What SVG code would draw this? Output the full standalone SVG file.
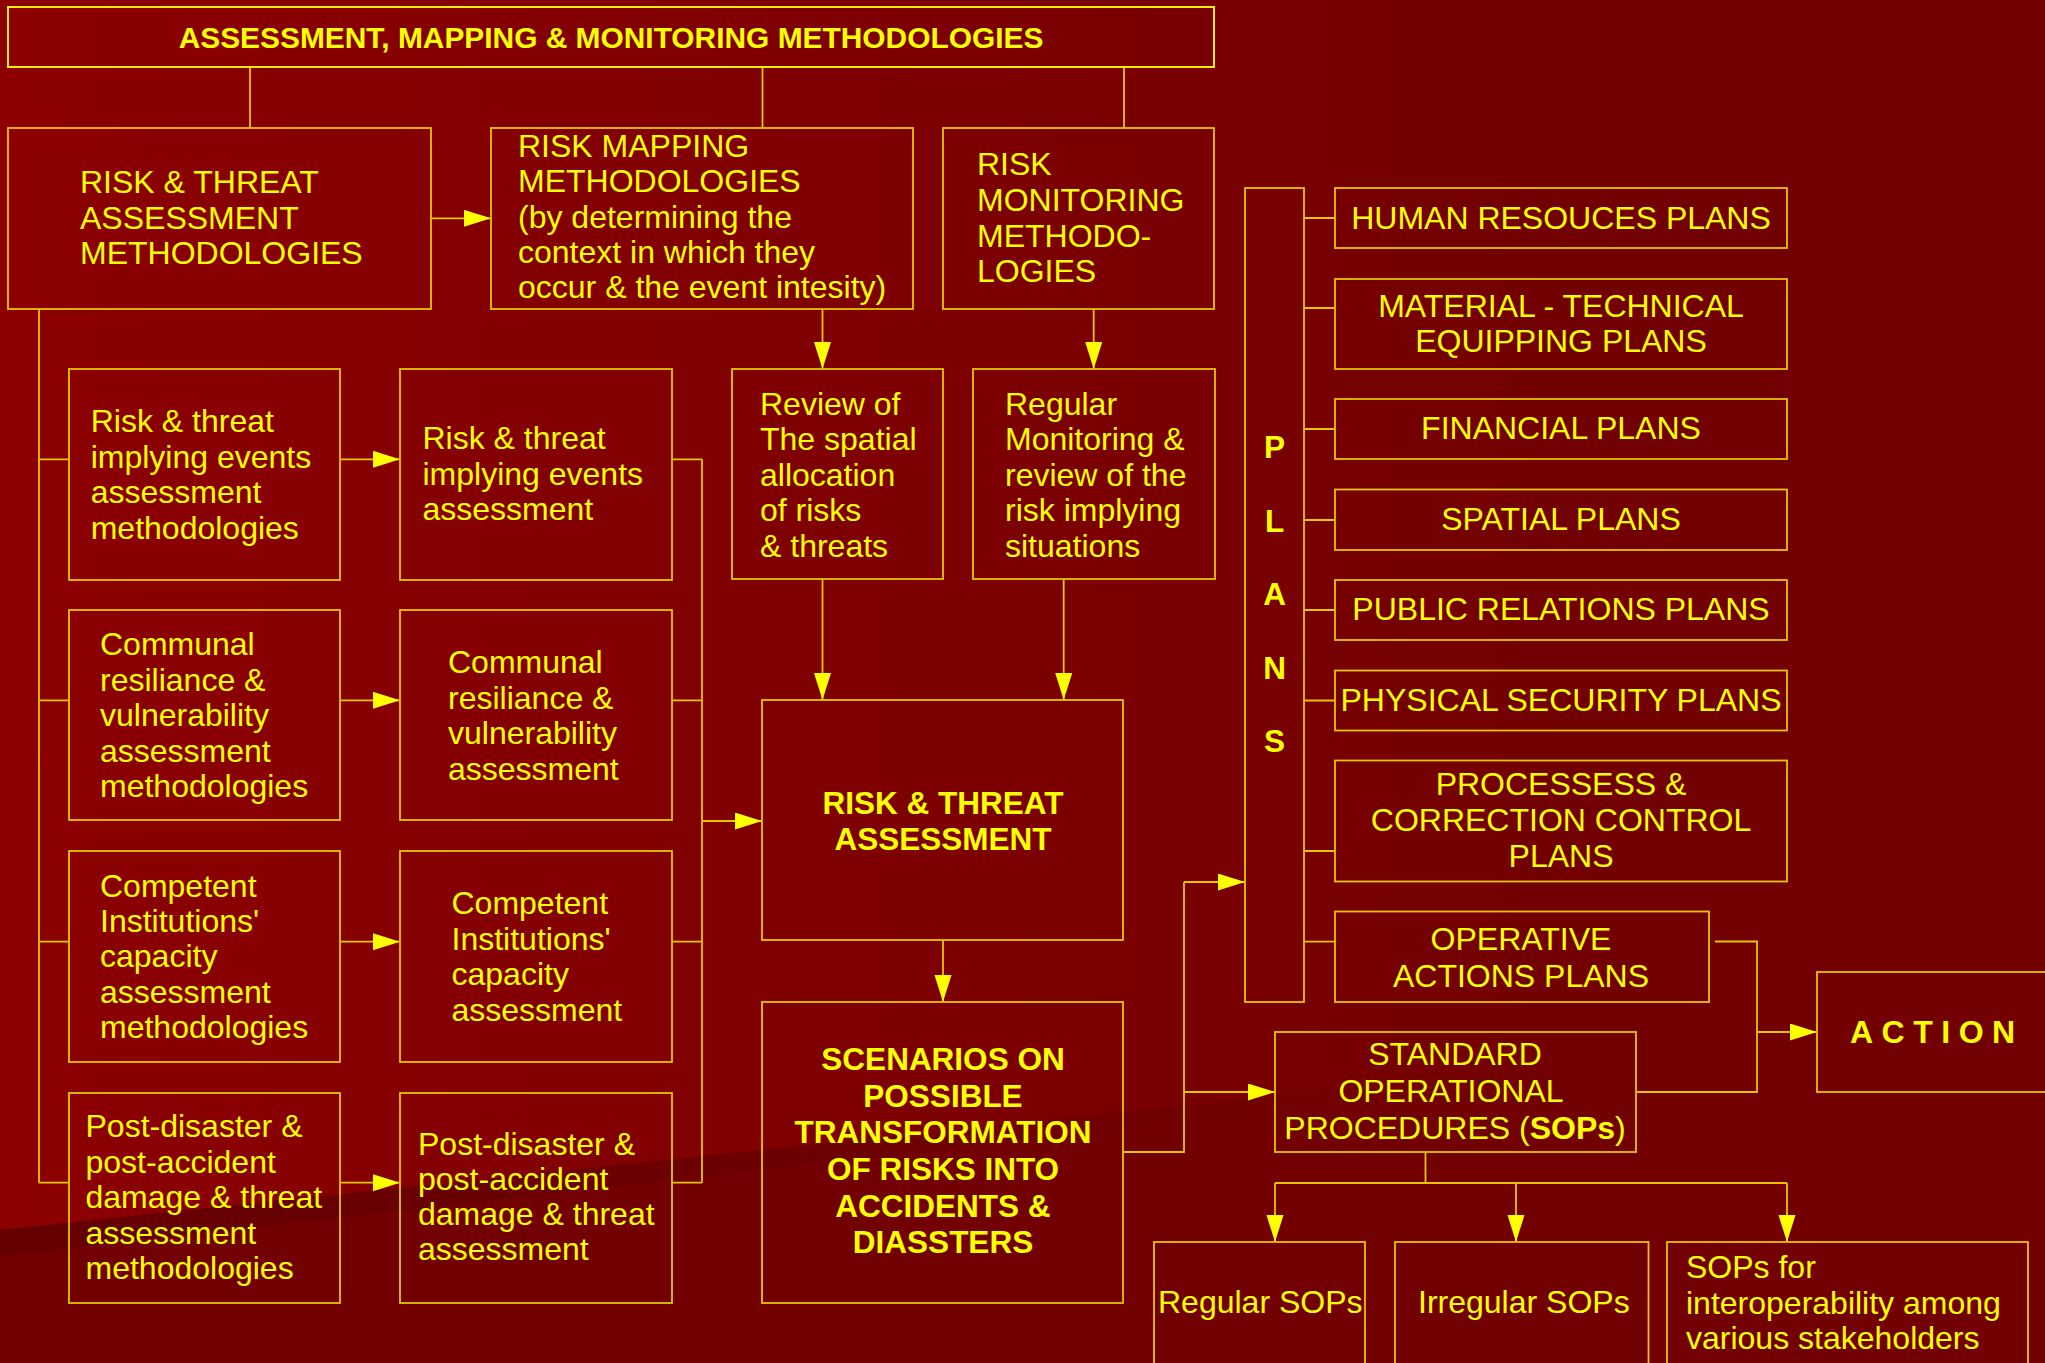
<svg xmlns="http://www.w3.org/2000/svg" width="2045" height="1363" viewBox="0 0 2045 1363">
<defs>
<linearGradient id="bg" gradientUnits="userSpaceOnUse" x1="0" y1="0" x2="1600" y2="0">
<stop offset="0" stop-color="#8c0000"/>
<stop offset="1" stop-color="#720000"/>
</linearGradient>
<linearGradient id="band" gradientUnits="userSpaceOnUse" x1="0" y1="0" x2="1400" y2="0">
<stop offset="0" stop-color="#640000"/>
<stop offset="1" stop-color="#730000"/>
</linearGradient>
<marker id="ah" markerUnits="userSpaceOnUse" markerWidth="28" markerHeight="18" refX="27" refY="8.5" orient="auto">
<path d="M0,0 L27,8.5 L0,17 z" fill="#ffff00"/>
</marker>
<style>
.box{fill:none;stroke:#e6c400;stroke-width:1.8}
.t{font-family:"Liberation Sans",Arial,Helvetica,sans-serif;font-size:32px;fill:#ffff00}
.b{font-family:"Liberation Sans",Arial,Helvetica,sans-serif;font-size:31.5px;font-weight:bold;fill:#ffff00}
.c{text-anchor:middle}
.ln{fill:none;stroke:#e6c400;stroke-width:1.8}
.ar{fill:none;stroke:#e6c400;stroke-width:1.8;marker-end:url(#ah)}
</style>
</defs>
<rect x="0" y="0" width="2045" height="1363" fill="url(#bg)"/>
<polygon points="0,1230 2045,1015 2045,1363 0,1363" fill="#730000"/>
<polygon points="0,1230 1400,1083 1400,1098 0,1256" fill="url(#band)"/>

<g id="connectors">
<path class="ln" d="M250,67 V128 M762.5,67 V128 M1124,67 V128"/>
<path class="ar" d="M431,218.3 H491"/>
<path class="ar" d="M822.5,309 V369"/>
<path class="ar" d="M1093.7,309 V369"/>
<path class="ar" d="M822.5,579 V700"/>
<path class="ar" d="M1063.7,579 V700"/>
<path class="ln" d="M39,309 V1182.7 M39,459.3 H69 M39,700.3 H69 M39,941.7 H69 M39,1182.7 H69"/>
<path class="ar" d="M340,459.3 H400"/>
<path class="ar" d="M340,700.3 H400"/>
<path class="ar" d="M340,941.7 H400"/>
<path class="ar" d="M340,1182.7 H400"/>
<path class="ln" d="M672,459.3 H702 M672,700.3 H702 M672,941.7 H702 M672,1182.7 H702 M702,459.3 V1182.7"/>
<path class="ar" d="M702,821 H762"/>
<path class="ar" d="M943,940 V1002"/>
<path class="ln" d="M1123,1152 H1184 V882"/>
<path class="ar" d="M1184,882 H1245"/>
<path class="ar" d="M1184,1092 H1275"/>
<path class="ln" d="M1304,218 H1335 M1304,308 H1335 M1304,429 H1335 M1304,520 H1335 M1304,610 H1335 M1304,700.5 H1335 M1304,851 H1335 M1304,941.7 H1335"/>
<path class="ln" d="M1715,941.5 H1757 V1092 H1636"/>
<path class="ar" d="M1757,1032 H1817"/>
<path class="ln" d="M1425.5,1152 V1183 M1275,1183 H1787"/>
<path class="ar" d="M1275,1183 V1242"/>
<path class="ar" d="M1516,1183 V1242"/>
<path class="ar" d="M1787,1183 V1242"/>
</g>

<g id="title">
<rect x="8" y="7" width="1206" height="60" fill="none" stroke="#ffee00" stroke-width="2"/>
<text class="b c" x="611" y="48" style="font-size:29.9px">ASSESSMENT, MAPPING &amp; MONITORING METHODOLOGIES</text>
</g>

<g id="risk-threat-assessment-methodologies">
<rect class="box" x="8" y="128" width="423" height="181"/>
<text class="t"><tspan x="80" y="193">RISK &amp; THREAT</tspan><tspan x="80" y="229">ASSESSMENT</tspan><tspan x="80" y="264">METHODOLOGIES</tspan></text>
</g>

<g id="risk-mapping-methodologies">
<rect class="box" x="491" y="128" width="422" height="181"/>
<text class="t"><tspan x="518" y="157">RISK MAPPING</tspan><tspan x="518" y="192">METHODOLOGIES</tspan><tspan x="518" y="227.5">(by determining the</tspan><tspan x="518" y="262.5">context in which they</tspan><tspan x="518" y="298">occur &amp; the event intesity)</tspan></text>
</g>

<g id="risk-monitoring-methodologies">
<rect class="box" x="943" y="128" width="271" height="181"/>
<text class="t"><tspan x="977" y="175">RISK</tspan><tspan x="977" y="210.5">MONITORING</tspan><tspan x="977" y="246.5">METHODO-</tspan><tspan x="977" y="282">LOGIES</tspan></text>
</g>

<g id="review-spatial">
<rect class="box" x="732" y="369" width="211" height="210"/>
<text class="t"><tspan x="760" y="415">Review of</tspan><tspan x="760" y="450">The spatial</tspan><tspan x="760" y="486">allocation</tspan><tspan x="760" y="521">of risks</tspan><tspan x="760" y="557">&amp; threats</tspan></text>
</g>

<g id="regular-monitoring">
<rect class="box" x="973" y="369" width="242" height="210"/>
<text class="t"><tspan x="1005" y="415">Regular</tspan><tspan x="1005" y="450">Monitoring &amp;</tspan><tspan x="1005" y="486">review of the</tspan><tspan x="1005" y="521">risk implying</tspan><tspan x="1005" y="557">situations</tspan></text>
</g>

<g id="events-methodologies">
<rect class="box" x="69" y="369" width="271" height="211"/>
<text class="t"><tspan x="90.7" y="432">Risk &amp; threat</tspan><tspan x="90.7" y="467.5">implying events</tspan><tspan x="90.7" y="503">assessment</tspan><tspan x="90.7" y="538.5">methodologies</tspan></text>
</g>
<g id="events-assessment">
<rect class="box" x="400" y="369" width="272" height="211"/>
<text class="t"><tspan x="422.5" y="449">Risk &amp; threat</tspan><tspan x="422.5" y="484.5">implying events</tspan><tspan x="422.5" y="520">assessment</tspan></text>
</g>

<g id="communal-methodologies">
<rect class="box" x="69" y="610" width="271" height="210"/>
<text class="t"><tspan x="100" y="655">Communal</tspan><tspan x="100" y="690.5">resiliance &amp;</tspan><tspan x="100" y="726">vulnerability</tspan><tspan x="100" y="761.5">assessment</tspan><tspan x="100" y="797">methodologies</tspan></text>
</g>
<g id="communal-assessment">
<rect class="box" x="400" y="610" width="272" height="210"/>
<text class="t"><tspan x="448" y="673">Communal</tspan><tspan x="448" y="708.5">resiliance &amp;</tspan><tspan x="448" y="744">vulnerability</tspan><tspan x="448" y="779.5">assessment</tspan></text>
</g>

<g id="capacity-methodologies">
<rect class="box" x="69" y="851" width="271" height="211"/>
<text class="t"><tspan x="100" y="897">Competent</tspan><tspan x="100" y="932">Institutions'</tspan><tspan x="100" y="967">capacity</tspan><tspan x="100" y="1002.5">assessment</tspan><tspan x="100" y="1038">methodologies</tspan></text>
</g>
<g id="capacity-assessment">
<rect class="box" x="400" y="851" width="272" height="211"/>
<text class="t"><tspan x="451.5" y="914">Competent</tspan><tspan x="451.5" y="949.5">Institutions'</tspan><tspan x="451.5" y="985">capacity</tspan><tspan x="451.5" y="1020.5">assessment</tspan></text>
</g>

<g id="postdisaster-methodologies">
<rect class="box" x="69" y="1093" width="271" height="210"/>
<text class="t"><tspan x="85.5" y="1137">Post-disaster &amp;</tspan><tspan x="85.5" y="1172.5">post-accident</tspan><tspan x="85.5" y="1208">damage &amp; threat</tspan><tspan x="85.5" y="1243.5">assessment</tspan><tspan x="85.5" y="1279">methodologies</tspan></text>
</g>
<g id="postdisaster-assessment">
<rect class="box" x="400" y="1093" width="272" height="210"/>
<text class="t"><tspan x="418" y="1155">Post-disaster &amp;</tspan><tspan x="418" y="1190">post-accident</tspan><tspan x="418" y="1225">damage &amp; threat</tspan><tspan x="418" y="1260">assessment</tspan></text>
</g>

<g id="risk-threat-assessment">
<rect class="box" x="762" y="700" width="361" height="240"/>
<text class="b c"><tspan x="943" y="814">RISK &amp; THREAT</tspan><tspan x="943" y="850">ASSESSMENT</tspan></text>
</g>

<g id="scenarios">
<rect class="box" x="762" y="1002" width="361" height="301"/>
<text class="b c"><tspan x="943" y="1070">SCENARIOS ON</tspan><tspan x="943" y="1106.7">POSSIBLE</tspan><tspan x="943" y="1143.3">TRANSFORMATION</tspan><tspan x="943" y="1180">OF RISKS INTO</tspan><tspan x="943" y="1216.7">ACCIDENTS &amp;</tspan><tspan x="943" y="1253.3">DIASSTERS</tspan></text>
</g>

<g id="plans">
<rect class="box" x="1245" y="188" width="59" height="814"/>
<text class="b c"><tspan x="1274.5" y="458">P</tspan><tspan x="1274.5" y="531.5">L</tspan><tspan x="1274.5" y="605">A</tspan><tspan x="1274.5" y="679">N</tspan><tspan x="1274.5" y="752">S</tspan></text>
</g>

<g id="human-resouces-plans">
<rect class="box" x="1335" y="188" width="452" height="60"/>
<text class="t c" x="1561" y="229">HUMAN RESOUCES PLANS</text>
</g>
<g id="material-technical-plans">
<rect class="box" x="1335" y="279" width="452" height="90"/>
<text class="t c"><tspan x="1561" y="317">MATERIAL - TECHNICAL</tspan><tspan x="1561" y="352">EQUIPPING PLANS</tspan></text>
</g>
<g id="financial-plans">
<rect class="box" x="1335" y="399" width="452" height="60"/>
<text class="t c" x="1561" y="439">FINANCIAL PLANS</text>
</g>
<g id="spatial-plans">
<rect class="box" x="1335" y="489.5" width="452" height="60.5"/>
<text class="t c" x="1561" y="530">SPATIAL PLANS</text>
</g>
<g id="public-relations-plans">
<rect class="box" x="1335" y="580" width="452" height="60"/>
<text class="t c" x="1561" y="620">PUBLIC RELATIONS PLANS</text>
</g>
<g id="physical-security-plans">
<rect class="box" x="1335" y="670.5" width="452" height="60"/>
<text class="t c" x="1561" y="710.5">PHYSICAL SECURITY PLANS</text>
</g>
<g id="processess-plans">
<rect class="box" x="1335" y="760.5" width="452" height="121"/>
<text class="t c"><tspan x="1561" y="795">PROCESSESS &amp;</tspan><tspan x="1561" y="831">CORRECTION CONTROL</tspan><tspan x="1561" y="866.7">PLANS</tspan></text>
</g>
<g id="operative-actions-plans">
<rect class="box" x="1335" y="911.5" width="374" height="90.5"/>
<text class="t c"><tspan x="1521" y="950">OPERATIVE</tspan><tspan x="1521" y="986.7">ACTIONS PLANS</tspan></text>
</g>

<g id="sops">
<rect class="box" x="1275" y="1032" width="361" height="120"/>
<text class="t c"><tspan x="1455" y="1065">STANDARD</tspan><tspan x="1451" y="1102">OPERATIONAL</tspan><tspan x="1455" y="1139">PROCEDURES (<tspan font-weight="bold">SOPs</tspan>)</tspan></text>
</g>

<g id="action">
<rect class="box" x="1817" y="972" width="240" height="120"/>
<text class="b" x="1850" y="1043" style="font-size:32px;letter-spacing:8.5px">ACTION</text>
</g>

<g id="regular-sops">
<rect class="box" x="1154" y="1242" width="211" height="160"/>
<text class="t" x="1158" y="1313">Regular SOPs</text>
</g>
<g id="irregular-sops">
<rect class="box" x="1395" y="1242" width="253.5" height="160"/>
<text class="t" x="1418" y="1313">Irregular SOPs</text>
</g>
<g id="interoperability-sops">
<rect class="box" x="1667" y="1242" width="361" height="160"/>
<text class="t"><tspan x="1686" y="1278">SOPs for</tspan><tspan x="1686" y="1313.5">interoperability among</tspan><tspan x="1686" y="1349">various stakeholders</tspan></text>
</g>
</svg>
